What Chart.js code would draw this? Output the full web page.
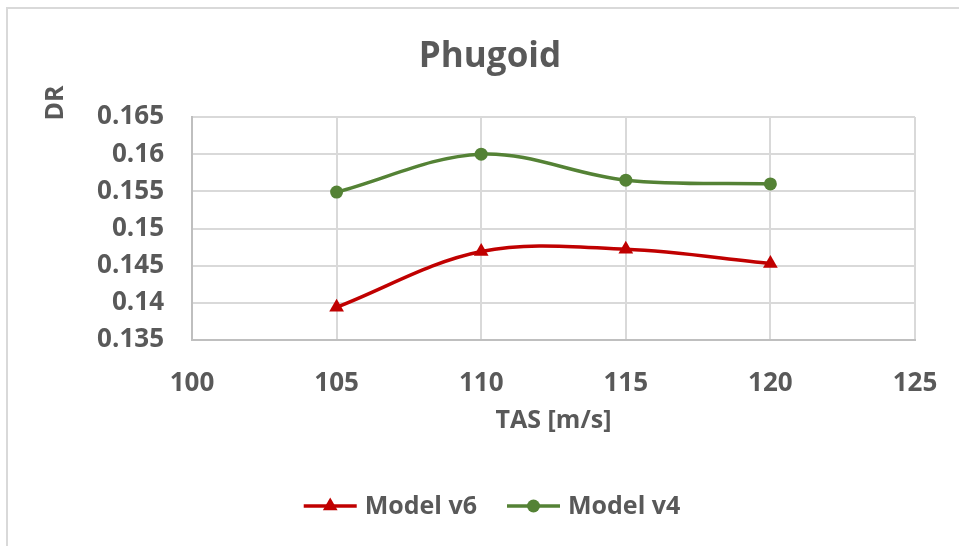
<!DOCTYPE html>
<html>
<head>
<meta charset="utf-8">
<title>Phugoid</title>
<script src="https://cdn.jsdelivr.net/npm/chart.js@4.4.1/dist/chart.umd.min.js"></script>
<style>
  html, body { margin: 0; padding: 0; background: #fff; }
  #wrap { width: 959px; height: 546px; }
</style>
</head>
<body>
<div id="wrap"><canvas id="chart" width="959" height="546"></canvas></div>
<script>
// Data
const tasValues = [105, 110, 115, 120];
const modelV6 = [0.1394, 0.1469, 0.1472, 0.1453];
const modelV4 = [0.1549, 0.1600, 0.1565, 0.1560];
const seriesNames = ['Model v6', 'Model v4'];
const xTickValues = [100, 105, 110, 115, 120, 125];
const yTickValues = [0.135, 0.14, 0.145, 0.15, 0.155, 0.16, 0.165];
const chartTitle = 'Phugoid';
const xTitle = 'TAS [m/s]';
const yTitle = 'DR';

const FONT = "'Open Sans', 'DejaVu Sans', sans-serif";
const TEXT = '#595959';
const RED = '#C00000';
const GREEN = '#548235';

function drawTriangle(ctx, x, y, r) {
    ctx.beginPath();
    ctx.moveTo(x, y - r);
    ctx.lineTo(x + r * 0.866, y + r / 2);
    ctx.lineTo(x - r * 0.866, y + r / 2);
    ctx.closePath();
    ctx.fill();
}

function drawCircle(ctx, x, y, r) {
    ctx.beginPath();
    ctx.arc(x, y, r, 0, Math.PI * 2);
    ctx.fill();
}

// Frame, titles and legend drawn around the plot
const decorPlugin = {
    id: 'decor',
    beforeDraw(chart) {
        const ctx = chart.ctx;
        ctx.save();
        ctx.strokeStyle = '#d9d9d9';
        ctx.lineWidth = 2;
        ctx.beginPath();
        ctx.moveTo(7, 546);
        ctx.lineTo(7, 8);
        ctx.lineTo(959, 8);
        ctx.stroke();
        ctx.restore();
    },
    afterDraw(chart) {
        const ctx = chart.ctx;
        const area = chart.chartArea;
        ctx.save();
        ctx.fillStyle = TEXT;
        ctx.textAlign = 'center';
        ctx.textBaseline = 'middle';

        // chart title
        ctx.font = 'bold 35px ' + FONT;
        ctx.fillText(chartTitle, 490, 57);

        // x axis title
        ctx.font = 'bold 25px ' + FONT;
        ctx.fillText(xTitle, (area.left + area.right) / 2, 421);

        // y axis title (top of axis, rotated)
        ctx.save();
        ctx.translate(56, 103);
        ctx.rotate(-Math.PI / 2);
        ctx.font = 'bold 25px ' + FONT;
        ctx.fillText(yTitle, 0, 0);
        ctx.restore();

        // legend: line + marker + label
        ctx.font = 'bold 25px ' + FONT;
        ctx.textAlign = 'left';
        const lineLen = 53, gap = 8, itemGap = 30;
        const colors = [RED, GREEN];
        const widths = seriesNames.map(n => lineLen + gap + ctx.measureText(n).width);
        const total = widths[0] + itemGap + widths[1];
        let x = 492 - total / 2;
        const y = 506;
        seriesNames.forEach((name, i) => {
            ctx.strokeStyle = colors[i];
            ctx.fillStyle = colors[i];
            ctx.lineWidth = 3.5;
            ctx.beginPath();
            ctx.moveTo(x, y);
            ctx.lineTo(x + lineLen, y);
            ctx.stroke();
            if (i === 0) drawTriangle(ctx, x + lineLen / 2, y, 8.5);
            else drawCircle(ctx, x + lineLen / 2, y, 6.5);
            ctx.fillStyle = TEXT;
            ctx.fillText(name, x + lineLen + gap, y + 1);
            x += widths[i] + itemGap;
        });
        ctx.restore();
    }
};

const ctx = document.getElementById('chart').getContext('2d');
new Chart(ctx, {
    type: 'line',
    data: {
        datasets: [{
            label: seriesNames[0],
            data: tasValues.map((x, i) => ({ x: x, y: modelV6[i] })),
            borderColor: RED,
            backgroundColor: RED,
            borderWidth: 3.5,
            pointStyle: 'triangle',
            pointRadius: 8.5,
            pointBorderWidth: 0,
            tension: 0.35,
            clip: false
        }, {
            label: seriesNames[1],
            data: tasValues.map((x, i) => ({ x: x, y: modelV4[i] })),
            borderColor: GREEN,
            backgroundColor: GREEN,
            borderWidth: 3.5,
            pointStyle: 'circle',
            pointRadius: 6.5,
            pointBorderWidth: 0,
            tension: 0.35,
            clip: false
        }]
    },
    options: {
        responsive: false,
        animation: false,
        layout: { padding: { top: 117, right: 44, left: 0, bottom: 0 } },
        plugins: {
            legend: { display: false },
            tooltip: { enabled: false }
        },
        scales: {
            x: {
                type: 'linear',
                min: 100,
                max: 125,
                afterBuildTicks: s => { s.ticks = xTickValues.map(v => ({ value: v })); },
                afterFit: s => {
                    s.height = 206;
                    s.paddingLeft = 0;
                    s.paddingRight = 0;
                },
                grid: { color: '#d9d9d9', lineWidth: 2, drawTicks: false },
                border: { color: '#bfbfbf', width: 2 },
                ticks: {
                    padding: 28,
                    maxRotation: 0,
                    color: TEXT,
                    font: { family: FONT, size: 26, weight: 'bold' }
                }
            },
            y: {
                type: 'linear',
                min: 0.135,
                max: 0.165,
                afterBuildTicks: s => { s.ticks = yTickValues.map(v => ({ value: v })); },
                afterFit: s => { s.width = 192; },
                grid: { color: '#d9d9d9', lineWidth: 2, drawTicks: false },
                border: { color: '#bfbfbf', width: 2 },
                ticks: {
                    padding: 28,
                    color: TEXT,
                    font: { family: FONT, size: 26, weight: 'bold' },
                    callback: v => String(+v.toFixed(3))
                }
            }
        }
    },
    plugins: [decorPlugin]
});
</script>
</body>
</html>
